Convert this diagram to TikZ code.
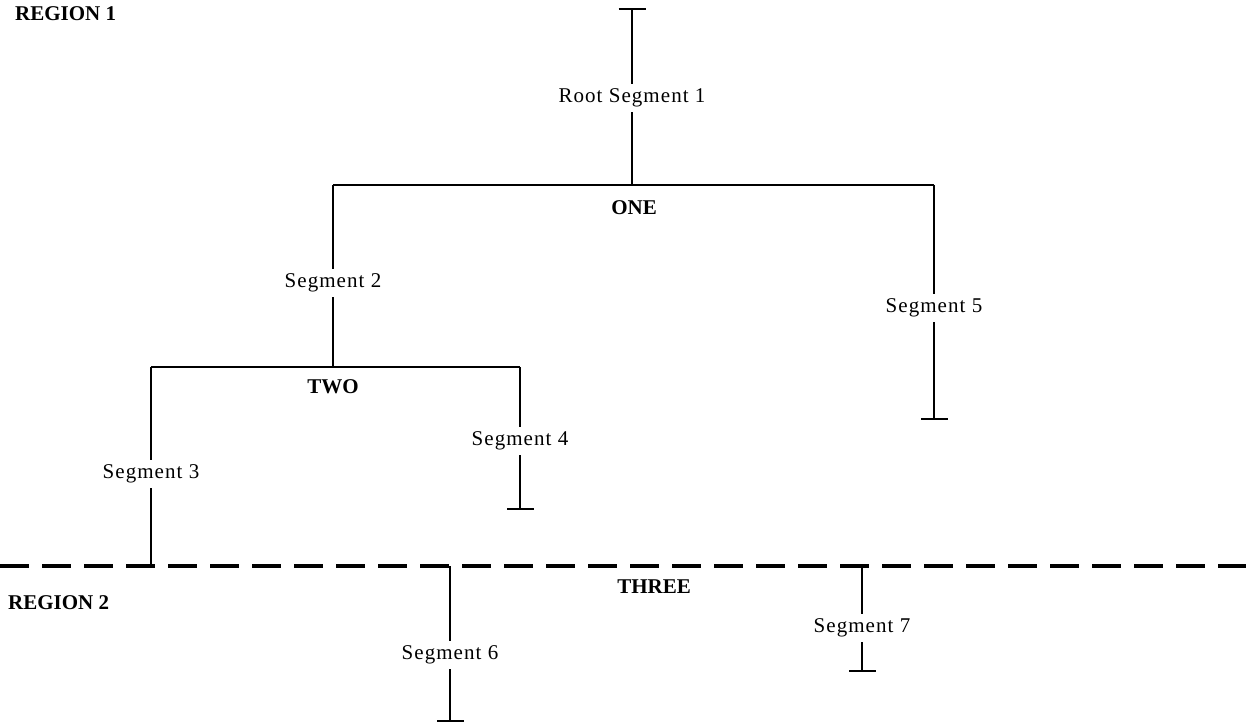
\documentclass[tikz,border=0pt]{standalone}
\usepackage{fontspec}
\setmainfont{Liberation Serif}
\newfontfamily\segfont[LetterSpace=5]{Liberation Serif}
\usetikzlibrary{arrows.meta}

\begin{document}
\begin{tikzpicture}[x=1pt,y=-1pt,
    seg/.style={font=\segfont\fontsize{21}{24}\selectfont, inner sep=5pt},
    tag/.style={font=\bfseries\fontsize{21}{24}\selectfont, inner sep=0pt},
    link/.style={line width=2.5pt},
    stub/.style={link, -{Bar[width=27pt,line width=2.5pt]}},
    boundary/.style={line width=4pt, dash pattern=on 29pt off 13pt}]
      \useasboundingbox (0,0) rectangle (1246,727);

      % Region labels and the boundary between them
      \node[tag, anchor=west] (reg1) at (15,14) {REGION 1};
      \node[tag, anchor=west] (reg2) at (8,603) {REGION 2};
      \coordinate (bndL) at (0,566);
      \coordinate (bndR) at (1246,566);
      \draw[boundary] (bndL) -- (bndR);

      % Root segment and level ONE
      \coordinate (rtop) at (632,8);
      \node[seg] (root) at (632,98) {Root Segment 1};
      \coordinate (oneJ) at (632,185);
      \coordinate (oneL) at (333,185);
      \coordinate (oneR) at (934,185);
      \node[tag] (one) at (634,208) {ONE};
      \draw[stub] (root) -- (rtop);
      \draw[link] (root) -- (oneJ);
      \draw[link] (oneL) -- (oneR);

      % Segment 2 and level TWO
      \node[seg] (seg2) at (333,283) {Segment 2};
      \coordinate (twoJ) at (333,367);
      \coordinate (twoL) at (151,367);
      \coordinate (twoR) at (520,367);
      \node[tag] (two) at (333,387) {TWO};
      \draw[link] (oneL) -- (seg2) -- (twoJ);
      \draw[link] (twoL) -- (twoR);

      % Segment 5
      \node[seg] (seg5) at (934,308) {Segment 5};
      \coordinate (s5end) at (934,420);
      \draw[link] (oneR) -- (seg5);
      \draw[stub] (seg5) -- (s5end);

      % Segments 3 and 4
      \node[seg] (seg3) at (151,474) {Segment 3};
      \coordinate (s3end) at (151,566);
      \draw[link] (twoL) -- (seg3) -- (s3end);

      \node[seg] (seg4) at (520,441) {Segment 4};
      \coordinate (s4end) at (520,510);
      \draw[link] (twoR) -- (seg4);
      \draw[stub] (seg4) -- (s4end);

      % Level THREE, below the boundary
      \node[tag] (three) at (654,587) {THREE};

      \coordinate (s6top) at (450,566);
      \node[seg] (seg6) at (450,655) {Segment 6};
      \coordinate (s6end) at (450,722);
      \draw[link] (s6top) -- (seg6);
      \draw[stub] (seg6) -- (s6end);

      \coordinate (s7top) at (862,566);
      \node[seg] (seg7) at (862,628) {Segment 7};
      \coordinate (s7end) at (862,672);
      \draw[link] (s7top) -- (seg7);
      \draw[stub] (seg7) -- (s7end);
    \end{tikzpicture}
\end{document}
